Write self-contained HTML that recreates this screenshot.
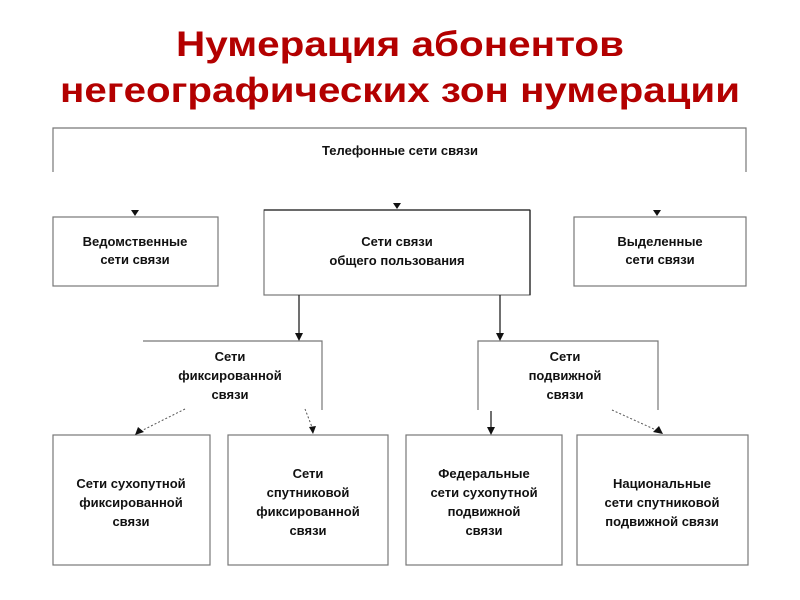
<!DOCTYPE html>
<html><head><meta charset="utf-8"><style>
html,body{margin:0;padding:0;background:#fff;}
svg{display:block;}
text{font-family:"Liberation Sans",sans-serif;font-weight:bold;}
</style></head><body>
<svg width="800" height="600" viewBox="0 0 800 600" xmlns="http://www.w3.org/2000/svg">
<text x="400" y="56" text-anchor="middle" font-size="35" fill="#b30000" textLength="448" lengthAdjust="spacingAndGlyphs">Нумерация абонентов</text>
<text x="400" y="102" text-anchor="middle" font-size="35" fill="#b30000" textLength="680" lengthAdjust="spacingAndGlyphs">негеографических зон нумерации</text>

<g stroke="#777" stroke-width="1.2" fill="none">
<polyline points="53,172 53,128 746,128 746,172"/>
<rect x="53" y="217" width="165" height="69"/>
<rect x="574" y="217" width="172" height="69"/>
<rect x="264" y="210" width="266" height="85"/>
<polyline points="143,341 322,341 322,410"/>
<polyline points="478,410 478,341 658,341 658,410"/>
<rect x="53" y="435" width="157" height="130"/>
<rect x="228" y="435" width="160" height="130"/>
<rect x="406" y="435" width="156" height="130"/>
<rect x="577" y="435" width="171" height="130"/>
</g>
<g stroke="#222" stroke-width="1.3" fill="none">
<line x1="264" y1="210" x2="530" y2="210"/>
<line x1="530" y1="210" x2="530" y2="295"/>
<line x1="299" y1="295" x2="299" y2="334"/>
<line x1="500" y1="295" x2="500" y2="334"/>
<line x1="491" y1="411" x2="491" y2="427"/>
</g>
<g stroke="#555" stroke-width="1" stroke-dasharray="2,2" fill="none">
<line x1="185" y1="409" x2="141" y2="431"/>
<line x1="305" y1="409" x2="312" y2="427"/>
<line x1="612" y1="410" x2="656" y2="430"/>
</g>
<g fill="#111">
<polygon points="131,210 139,210 135,216"/>
<polygon points="393,203 401,203 397,209"/>
<polygon points="653,210 661,210 657,216"/>
<polygon points="295,333 303,333 299,341"/>
<polygon points="496,333 504,333 500,341"/>
<polygon points="487,427 495,427 491,435"/>
<polygon points="135,435 138,427 144,432"/>
<polygon points="309,427 316,426 313,434"/>
<polygon points="653,432 659,426 663,434"/>
</g>
<g font-size="13" fill="#111" text-anchor="middle">
<text x="400" y="155">Телефонные сети связи</text>
<text x="135" y="246">Ведомственные</text><text x="135" y="264">сети связи</text>
<text x="660" y="246">Выделенные</text><text x="660" y="264">сети связи</text>
<text x="397" y="246">Сети связи</text><text x="397" y="265">общего пользования</text>
<text x="230" y="361">Сети</text><text x="230" y="380">фиксированной</text><text x="230" y="399">связи</text>
<text x="565" y="361">Сети</text><text x="565" y="380">подвижной</text><text x="565" y="399">связи</text>
<text x="131" y="488">Сети сухопутной</text><text x="131" y="507">фиксированной</text><text x="131" y="526">связи</text>
<text x="308" y="478">Сети</text><text x="308" y="497">спутниковой</text><text x="308" y="516">фиксированной</text><text x="308" y="535">связи</text>
<text x="484" y="478">Федеральные</text><text x="484" y="497">сети сухопутной</text><text x="484" y="516">подвижной</text><text x="484" y="535">связи</text>
<text x="662" y="488">Национальные</text><text x="662" y="507">сети спутниковой</text><text x="662" y="526">подвижной связи</text>
</g>
</svg>
</body></html>
